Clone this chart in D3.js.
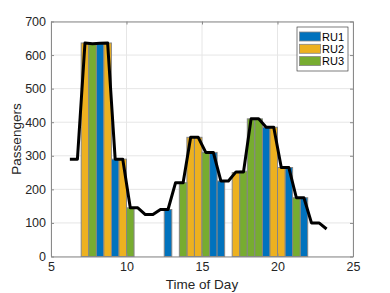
<!DOCTYPE html>
<html>
<head>
<meta charset="utf-8">
<script src="https://cdn.jsdelivr.net/npm/d3@7"></script>
<style>
  body { margin: 0; background: #fff; }
  svg { display: block; font-family: "Liberation Sans", Arial, sans-serif; }
</style>
</head>
<body>
<script>
// total passengers, half-hour slot centres
const slotTimes = [6.25, 6.75, 7.25, 7.75, 8.25, 8.75, 9.25, 9.75, 10.25, 10.75, 11.25, 11.75,
    12.25, 12.75, 13.25, 13.75, 14.25, 14.75, 15.25, 15.75, 16.25, 16.75, 17.25, 17.75,
    18.25, 18.75, 19.25, 19.75, 20.25, 20.75, 21.25, 21.75, 22.25, 22.75, 23.25];
const slotValues = [290, 290, 636, 634, 635, 636, 290, 290, 145, 145, 125, 125,
    140, 140, 220, 220, 355, 355, 310, 310, 225, 225, 252, 252,
    410, 410, 385, 385, 265, 265, 175, 175, 100, 100, 82];

// bars per unit
const ru1Times = [8.25, 9.25, 12.75, 15.75, 16.25, 19.25, 20.75, 21.75];
const ru1Values = [635, 290, 140, 310, 225, 385, 265, 175];
const ru2Times = [7.25, 8.75, 9.75, 14.25, 14.75, 17.25, 19.75, 20.25];
const ru2Values = [636, 636, 290, 355, 355, 250, 385, 265];
const ru3Times = [7.75, 10.25, 13.75, 15.25, 17.75, 18.25, 18.75, 21.25];
const ru3Values = [633, 145, 220, 310, 254, 410, 410, 175];

const seriesNames = ['RU1', 'RU2', 'RU3'];
const seriesColors = ['#0072BD', '#EDB120', '#77AC30'];

const xTicks = [5, 10, 15, 20, 25];
const yTicks = [0, 100, 200, 300, 400, 500, 600, 700];

const width = 390, height = 293;
const margin = { left: 51, right: 37, top: 21.5, bottom: 36.5 };
const innerW = width - margin.left - margin.right;
const innerH = height - margin.top - margin.bottom;

const svg = d3.select('body')
    .append('svg')
    .attr('width', width)
    .attr('height', height);

const x = d3.scaleLinear().domain([5, 25]).range([margin.left, margin.left + innerW]);
const y = d3.scaleLinear().domain([0, 700]).range([margin.top + innerH, margin.top]);

// grid
const grid = svg.append('g');
grid.selectAll('.gx').data(xTicks).enter().append('line')
    .attr('x1', d => x(d)).attr('x2', d => x(d))
    .attr('y1', y(0)).attr('y2', y(700))
    .attr('stroke', '#e6e6e6').attr('stroke-width', 1);
grid.selectAll('.gy').data(yTicks).enter().append('line')
    .attr('x1', x(5)).attr('x2', x(25))
    .attr('y1', d => y(d)).attr('y2', d => y(d))
    .attr('stroke', '#e6e6e6').attr('stroke-width', 1);

// bars
const barSeries = [
    { times: ru1Times, values: ru1Values },
    { times: ru2Times, values: ru2Values },
    { times: ru3Times, values: ru3Values }
];
const barW = 0.5;
barSeries.forEach((s, k) => {
    svg.append('g').selectAll('rect')
        .data(s.times.map((t, i) => [t, s.values[i]]))
        .enter()
        .append('rect')
        .attr('x', d => x(d[0] - barW / 2))
        .attr('y', d => y(d[1]))
        .attr('width', x(barW) - x(0))
        .attr('height', d => y(0) - y(d[1]))
        .attr('fill', seriesColors[k])
        .attr('stroke', '#858585')
        .attr('stroke-width', 1);
});

// total line
const line = d3.line().x(d => x(d[0])).y(d => y(d[1]));
svg.append('path')
    .datum(slotTimes.map((t, i) => [t, slotValues[i]]))
    .attr('d', line)
    .attr('fill', 'none')
    .attr('stroke', '#000')
    .attr('stroke-width', 3)
    .attr('stroke-linejoin', 'round');

// axes
const axisColor = '#262626';
const xAxis = d3.axisBottom(x).tickValues(xTicks).tickSizeInner(-3).tickSizeOuter(0).tickPadding(6);
const yAxis = d3.axisLeft(y).tickValues(yTicks).tickSizeInner(-3).tickSizeOuter(0).tickPadding(5);

const gx = svg.append('g').attr('transform', `translate(0,${y(0)})`).call(xAxis);
const gy = svg.append('g').attr('transform', `translate(${x(5)},0)`).call(yAxis);
svg.append('g').attr('transform', `translate(0,${y(700)})`)
    .call(d3.axisTop(x).tickValues(xTicks).tickSizeInner(-3).tickSizeOuter(0).tickFormat(''));
svg.append('g').attr('transform', `translate(${x(25)},0)`)
    .call(d3.axisRight(y).tickValues(yTicks).tickSizeInner(-3).tickSizeOuter(0).tickFormat(''));

svg.selectAll('.domain').attr('stroke', '#8a8a8a');
svg.selectAll('.tick line').attr('stroke', '#8a8a8a');
svg.selectAll('.tick text')
    .attr('fill', axisColor)
    .style('font-size', '12.5px')
    .style('font-family', '"Liberation Sans", Arial, sans-serif');

// labels
svg.append('text')
    .attr('x', x(15)).attr('y', 289)
    .attr('text-anchor', 'middle')
    .attr('fill', axisColor)
    .style('font-size', '13.5px')
    .text('Time of Day');
svg.append('text')
    .attr('transform', `translate(21,${y(350)}) rotate(-90)`)
    .attr('text-anchor', 'middle')
    .attr('fill', axisColor)
    .style('font-size', '13.5px')
    .text('Passengers');

// legend
const lg = svg.append('g').attr('transform', 'translate(297,27)');
lg.append('rect')
    .attr('width', 51).attr('height', 44)
    .attr('fill', '#fff').attr('stroke', '#262626').attr('stroke-width', 0.6);
seriesNames.forEach((n, i) => {
    const row = lg.append('g').attr('transform', `translate(0,${5 + i * 12.3})`);
    row.append('rect')
        .attr('x', 2.5).attr('y', 0).attr('width', 21).attr('height', 9)
        .attr('fill', seriesColors[i]).attr('stroke', '#858585').attr('stroke-width', 0.8);
    row.append('text')
        .attr('x', 25).attr('y', 8.5)
        .attr('fill', '#000')
        .style('font-size', '11px')
        .text(n);
});
</script>
</body>
</html>
